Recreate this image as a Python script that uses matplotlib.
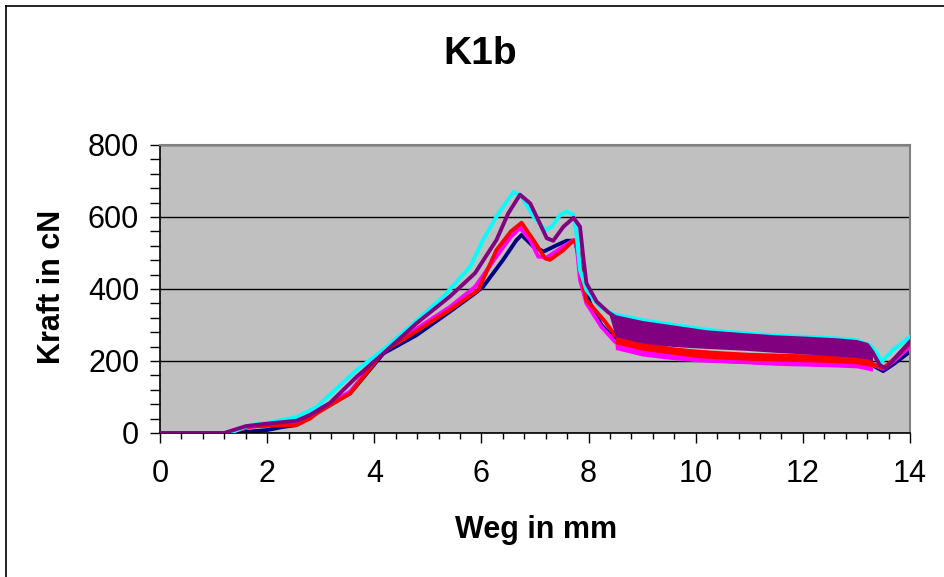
import matplotlib
matplotlib.use("Agg")
import matplotlib.pyplot as plt
from matplotlib.lines import Line2D
from matplotlib.ticker import MultipleLocator

plt.rcParams['font.family'] = ['Liberation Sans', 'DejaVu Sans']

title = "K1b"
xlabel = "Weg in mm"
ylabel = "Kraft in cN"
xticks = [0, 2, 4, 6, 8, 10, 12, 14]
yticks = [0, 200, 400, 600, 800]

# Navy curve
navy_x = [0, 1.36, 1.99, 2.3, 2.55, 2.93, 3.55, 4.17, 4.79, 5.41, 5.88, 6.03, 6.4, 6.65, 6.75,
          6.97, 7.16, 7.41, 7.59, 7.75, 7.84, 7.90, 8.03, 8.24, 8.37, 8.6, 8.99, 9.6,
          10.5, 11.5, 12.5, 13.2, 13.5, 13.7, 14.0]
navy_y = [0, 0, 8, 17, 22, 60, 110, 221, 272, 337, 388, 406, 480, 535, 550,
          518, 504, 522, 534, 534, 471, 416, 360, 300, 280, 250, 236, 222,
          212, 207, 203, 196, 172, 192, 226]

# Magenta curve
magenta_x = [0, 1.25, 1.68, 2.0, 2.55, 2.93, 3.55, 4.17, 4.79, 5.41, 5.88, 6.28, 6.55,
             6.72, 6.91, 7.06, 7.22, 7.53, 7.72, 7.78, 7.84, 7.96, 8.0, 8.24, 8.49,
             8.68, 9.3, 10.0, 10.9, 12.0, 13.0, 13.3, 13.5, 13.7, 14.0]
magenta_y = [0, 0, 17, 22, 27, 62, 115, 228, 290, 350, 406, 490, 545,
             570, 536, 490, 488, 518, 536, 518, 425, 360, 351, 295, 254,
             235, 219, 214, 210, 207, 200, 190, 178, 200, 240]

# Red curve
red_x = [0, 1.24, 1.68, 2.0, 2.55, 2.8, 2.93, 3.55, 4.17, 4.79, 5.41, 5.94, 6.28, 6.55,
         6.75, 6.97, 7.19, 7.28, 7.53, 7.69, 7.75, 7.81, 7.87, 7.96, 8.12, 8.31,
         8.49, 8.87, 9.61, 10.55, 11.5, 12.63, 13.2, 13.5, 13.7, 14.0]
red_y = [0, 0, 18, 20, 22, 40, 55, 110, 226, 283, 342, 397, 508, 560,
         584, 536, 485, 481, 508, 531, 536, 508, 434, 369, 342, 309,
         272, 254, 231, 217, 212, 207, 198, 180, 205, 249]

# Cyan curve
cyan_x = [0, 1.3, 1.68, 2.0, 2.55, 2.93, 3.67, 4.17, 4.79, 5.29, 5.79, 6.03, 6.28, 6.6,
          6.75, 6.97, 7.19, 7.31, 7.47, 7.59, 7.72, 7.78, 7.84, 7.96, 8.21, 8.46,
          8.99, 9.61, 10.24, 10.92, 11.5, 12.07, 12.6, 13.0, 13.25, 13.38, 13.47,
          13.69, 14.0]
cyan_y = [0, 0, 22, 28, 44, 73, 175, 231, 312, 379, 462, 536, 601, 670,
          657, 601, 564, 573, 606, 615, 606, 545, 453, 397, 351, 330,
          314, 300, 286, 277, 271, 267, 263, 258, 244, 221, 198,
          231, 267]

# Purple curve (upper edge in the noisy tail)
purple_x = [0, 1.2, 1.6, 2.0, 2.55, 2.8, 3.17, 3.67, 4.17, 4.79, 5.41, 5.88, 6.28, 6.5,
            6.72, 6.91, 7.09, 7.22, 7.34, 7.53, 7.72, 7.84, 7.90, 7.96, 8.15, 8.37,
            8.5, 9.0, 9.6, 10.2, 10.9, 11.5, 12.1, 12.6, 13.0, 13.2, 13.3, 13.44,
            13.56, 13.7, 14.0]
purple_y = [0, 0, 19, 26, 34, 50, 83, 156, 221, 305, 379, 444, 536, 610,
            662, 638, 582, 541, 534, 573, 598, 573, 490, 416, 365, 335,
            322, 306, 293, 280, 272, 266, 262, 258, 253, 245, 225, 188,
            180, 205, 254]

# Noise bands in the tail
purple_band_x = [8.37, 8.5, 9.0, 9.6, 10.2, 10.9, 11.5, 12.1, 12.6, 13.0, 13.2, 13.3]
purple_band_lo = [335, 268, 250, 240, 235, 230, 224, 219, 214, 210, 206, 200]
purple_band_hi = [335, 322, 306, 293, 280, 272, 266, 262, 258, 253, 245, 225]

tail_x = [8.5, 9.0, 9.5, 10.0, 10.5, 11.0, 11.5, 12.0, 12.5, 13.0, 13.3]
red_lo = [248, 230, 220, 210, 205, 202, 200, 198, 196, 192, 184]
red_hi = [266, 252, 240, 233, 228, 224, 222, 220, 218, 214, 205]
magenta_lo = [232, 214, 205, 198, 195, 192, 188, 186, 184, 181, 172]
magenta_hi = [250, 232, 222, 215, 212, 210, 208, 206, 204, 200, 192]
navy_lo = [240, 222, 210, 200, 196, 193, 190, 188, 186, 185, 180]
navy_hi = [255, 238, 226, 218, 214, 210, 208, 206, 204, 200, 194]

fig = plt.figure(figsize=(9.44, 5.77), dpi=100)
ax = fig.add_axes([160/944, 1-433/577, 750/944, 288/577])
ax.set_facecolor('#C0C0C0')

lw = 2.8
ax.fill_between(tail_x, navy_lo, navy_hi, color='#000080', lw=0, zorder=2)
ax.plot(navy_x, navy_y, color='#000080', lw=lw, zorder=2, solid_joinstyle='round')
ax.fill_between(tail_x, magenta_lo, magenta_hi, color='#FF00FF', lw=0, zorder=3)
ax.plot(magenta_x, magenta_y, color='#FF00FF', lw=lw, zorder=3, solid_joinstyle='round')
ax.fill_between(tail_x, red_lo, red_hi, color='#FF0000', lw=0, zorder=4)
ax.plot(red_x, red_y, color='#FF0000', lw=lw, zorder=4, solid_joinstyle='round')
ax.plot(cyan_x, cyan_y, color='#00FFFF', lw=lw, zorder=5, solid_joinstyle='round')
ax.plot(purple_x, purple_y, color='#800080', lw=lw, zorder=6, solid_joinstyle='round')
ax.fill_between(purple_band_x, purple_band_lo, purple_band_hi, color='#800080', lw=0, zorder=6)

ax.set_xlim(0, 14)
ax.set_ylim(0, 800)
ax.set_xticks(xticks)
ax.set_yticks(yticks)
ax.xaxis.set_minor_locator(MultipleLocator(0.4))
ax.yaxis.set_minor_locator(MultipleLocator(40))
ax.grid(axis='y', which='major', color='#000000', lw=1.0, zorder=1)
ax.set_axisbelow(True)

for s in ['left', 'bottom']:
    ax.spines[s].set_color('#000000')
    ax.spines[s].set_linewidth(1.2)
for s in ['top', 'right']:
    ax.spines[s].set_color('#808080')
    ax.spines[s].set_linewidth(1.5)

ax.tick_params(axis='x', which='major', direction='out', length=7, width=1, labelsize=22, pad=12)
ax.tick_params(axis='x', which='minor', direction='out', length=4, width=1)
ax.tick_params(axis='y', which='major', direction='out', length=7, width=1, labelsize=22, pad=8)
ax.tick_params(axis='y', which='minor', direction='out', length=7, width=1)

fig.text(480/944, 1-54/577, title, ha='center', va='center', fontsize=28, fontweight='bold')
fig.text(536/944, 1-530/577, xlabel, ha='center', va='center', fontsize=22, fontweight='bold')
fig.text(52/944, 1-287/577, ylabel, ha='center', va='center', fontsize=22, fontweight='bold', rotation=90)

# outer chart border
fig.add_artist(Line2D([6/944, 6/944], [0, 1-6/577], transform=fig.transFigure, color='black', lw=1.2))
fig.add_artist(Line2D([6/944, 1], [1-6/577, 1-6/577], transform=fig.transFigure, color='black', lw=1.2))

fig.savefig('out.png', dpi=100)
